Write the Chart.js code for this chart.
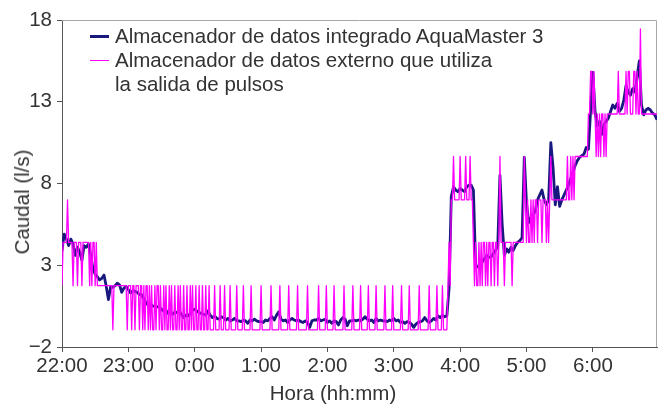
<!DOCTYPE html>
<html>
<head>
<meta charset="utf-8">
<script src="https://cdn.jsdelivr.net/npm/chart.js@4.4.1/dist/chart.umd.min.js"></script>
<style>
  html, body { margin: 0; padding: 0; background: #fff; }
  #wrap { position: relative; width: 660px; height: 409px; font-family: 'Liberation Sans', Arial, sans-serif; color: #333; }
  #flowChart { position: absolute; left: 0; top: 0; }
  .legend { position: absolute; left: 90px; top: 23.5px; font-size: 20.5px; line-height: 24px; }
  .legend .row { position: relative; padding-left: 25px; white-space: nowrap; }
  .legend .swatch { position: absolute; left: 0; width: 19px; }
  .axis-title { position: absolute; font-size: 20.5px; line-height: 24px; white-space: nowrap; }
</style>
</head>
<body>
<div id="wrap">
  <canvas id="flowChart" width="660" height="409"></canvas>
  <div class="legend" id="legend"></div>
  <div class="axis-title" id="xTitle" style="left:333px; top:381px; transform:translateX(-50%);"></div>
  <div class="axis-title" id="yTitle" style="left:22px; top:202px; transform:translate(-50%,-50%) rotate(-90deg);"></div>
</div>
<script>
// textos
const seriesNames = [
  ['Almacenador de datos integrado AquaMaster 3'],
  ['Almacenador de datos externo que utiliza', 'la salida de pulsos']
];
const xTitle = 'Hora (hh:mm)';
const yTitle = 'Caudal (l/s)';

// ejes
const xTickMinutes = [0, 60, 120, 180, 240, 300, 360, 420, 480];
const xTickLabels = ['22:00', '23:00', '0:00', '1:00', '2:00', '3:00', '4:00', '5:00', '6:00'];
const xEndMinute = 538;
const yTickValues = [-2, 3, 8, 13, 18];
const yTickLabels = ['\u22122', '3', '8', '13', '18'];

// registrador integrado: una muestra cada 2 min desde las 22:00 (l/s)
const integratedIntervalMin = 2;
const integratedFlow = [
  3.9, 4.9, 4.6, 4.2, 4.6, 4.3, 3.6, 4.1, 3.8, 3.3,
  4.2, 4.1, 4.3, 3.6, 2.8, 2.45, 2.3, 2.1, 2.2, 2.4,
  1.7, 0.9, 1.7, 1.65, 1.75, 1.9, 1.8, 1.35, 1.6, 1.7,
  1.5, 1.3, 1.45, 1.4, 1.35, 1.2, 1.2, 0.95, 0.7, 0.55,
  0.65, 0.5, 0.5, 0.45, 0.45, 0.3, 0.2, 0.25, 0.05, 0.15,
  0.0, 0.15, 0.1, 0.2, 0.0, -0.2, -0.05, -0.1, 0.05, 0.25,
  0.3, 0.2, 0.1, 0.05, 0.0, -0.05, 0.2, -0.05, -0.2, -0.1,
  -0.25, -0.3, -0.15, -0.2, -0.35, -0.25, -0.4, -0.35, -0.25, -0.4,
  -0.4, -0.45, -0.35, -0.4, -0.55, -0.35, -0.4, -0.3, -0.4, -0.45,
  -0.45, -0.5, -0.35, -0.4, -0.25, -0.15, -0.35, -0.05, 0.15, -0.3,
  -0.4, -0.35, -0.5, -0.35, -0.25, -0.35, -0.4, -0.35, -0.45, -0.5,
  -0.4, -0.5, -0.8, -0.4, -0.35, -0.35, -0.25, -0.4, -0.35, -0.3,
  -0.5, -0.4, -0.55, -0.4, -0.45, -0.65, -0.35, -0.2, -0.3, -0.7,
  -0.4, -0.4, -0.35, -0.4, -0.35, -0.4, -0.3, -0.15, -0.3, -0.4,
  -0.35, -0.5, -0.25, -0.4, -0.35, -0.4, -0.4, -0.45, -0.35, -0.4,
  -0.25, -0.4, -0.35, -0.5, -0.45, -0.55, -0.45, -0.5, -0.6, -0.8,
  -0.6, -0.5, -0.45, -0.4, -0.2, -0.4, -0.5, -0.4, -0.25, -0.35,
  -0.1, -0.2, -0.05, -0.15, -0.1, 1.6, 7.2, 7.8, 7.6, 7.5,
  7.7, 7.6, 7.5, 7.8, 7.9, 7.9, 7.6, 3.0, 2.9, 3.0,
  3.2, 3.4, 3.6, 3.5, 3.5, 3.7, 3.9, 4.2, 8.5, 5.5,
  3.6, 4.0, 3.8, 4.1, 3.9, 4.2, 4.4, 4.5, 4.7, 9.6,
  6.8, 5.6, 5.9, 6.1, 6.3, 7.0, 7.3, 7.6, 7.0, 6.7,
  7.0, 10.5, 9.0, 6.7, 7.8, 6.6, 7.0, 7.3, 7.6, 7.9,
  8.3, 8.7, 9.1, 9.4, 9.6, 9.7, 9.8, 10.2, 10.1, 12.5,
  14.8, 12.4, 11.5, 11.8, 11.0, 11.6, 11.8, 12.0, 12.4, 12.8,
  12.6, 12.9, 12.4, 12.6, 13.1, 14.0, 13.6, 13.4, 13.8, 13.6,
  14.5, 15.5, 12.8, 12.2, 12.5, 12.6, 12.5, 12.3, 12.2, 11.9
];

// registrador externo: pulsos contados por minuto, y caudal de cada nivel (l/s)
const externalIntervalMin = 1;
const pulseLevels = [-0.95, 1.75, 4.4, 7.0, 9.65, 12.25, 14.85, 17.45];
const externalPulses = [
  1,2,2,2,2,3,2,2,2,2, 1,2,2,2,1,2,2,2,1,2, 2,2,2,2,2,1,2,1,2,2, 1,2,1,1,1,1,1,1,1,1,
  1,1,1,1,1,1,0,1,1,1, 1,1,1,1,1,1,1,1,1,0, 1,1,1,0,1,1,0,1,1,1, 0,1,1,0,1,0,1,1,0,1,
  0,1,0,0,1,0,1,1,0,1, 0,0,1,0,1,0,0,1,0,1, 0,0,1,0,0,1,0,1,0,0, 1,0,0,1,0,0,1,0,1,0,
  0,1,0,0,1,0,0,1,0,0, 1,0,0,1,0,0,0,0,1,0, 0,0,0,1,0,0,0,1,0,0, 0,0,1,0,0,0,0,0,1,0,
  0,0,0,0,1,0,0,0,0,0, 0,1,0,0,0,0,0,0,0,0, 1,0,0,0,0,0,0,0,0,1, 0,0,0,0,0,0,0,1,0,0,
  0,0,0,0,0,1,0,0,0,0, 0,0,0,1,0,0,0,0,0,0, 0,0,1,0,0,0,0,0,0,0, 0,0,1,0,0,0,0,0,0,1,
  0,0,0,0,0,0,1,0,0,0, 0,0,0,0,0,1,0,0,0,0, 0,0,0,1,0,0,0,0,0,0, 1,0,0,0,0,0,0,1,0,0,
  0,0,0,0,1,0,0,0,0,0, 0,0,1,0,0,0,0,0,0,1, 0,0,0,0,0,0,0,1,0,0, 0,0,0,0,1,0,0,0,0,0,
  0,0,0,1,0,0,0,0,0,0, 0,0,1,0,0,0,0,0,0,1, 0,0,0,0,1,0,0,0,0,1, 2,1,3,3,4,3,3,3,3,3,
  4,3,3,3,3,4,3,3,3,4, 3,3,2,1,2,1,1,2,1,2, 1,2,2,1,2,1,2,2,1,2, 2,1,2,2,1,2,4,2,2,2,
  1,2,2,2,2,2,2,1,2,2, 2,2,2,2,2,2,2,2,4,3, 2,3,2,2,3,2,3,2,3,3, 2,3,3,3,2,3,3,3,2,3,
  2,3,4,3,3,3,3,3,3,3, 3,3,3,3,3,3,3,4,3,3, 4,3,4,3,4,4,4,4,4,4, 4,4,4,4,4,4,5,5,6,6,
  5,6,5,4,5,4,5,4,5,5, 4,5,4,5,5,5,5,5,5,5, 5,5,5,6,5,5,5,5,5,5, 6,5,6,6,5,5,5,6,6,5,
  6,5,5,7,5,5,5,5,5,5, 5,5,5,5,5,5,5,5,5
];

// leyenda y títulos en HTML
const seriesColors = ['#18187f', '#ff00ff'];
const seriesWidths = [3, 1.4];
const legendEl = document.getElementById('legend');
seriesNames.forEach((lines, i) => {
  const row = document.createElement('div');
  row.className = 'row';
  row.innerHTML = `<span class="swatch" style="top:${13.3 - seriesWidths[i] / 2}px;border-top:${seriesWidths[i]}px solid ${seriesColors[i]}"></span>` +
    lines.map(t => `<div>${t}</div>`).join('');
  legendEl.appendChild(row);
});
document.getElementById('xTitle').textContent = xTitle;
document.getElementById('yTitle').textContent = yTitle;

const integratedPoints = integratedFlow.map((v, i) => ({ x: i * integratedIntervalMin, y: v }));
const externalPoints = externalPulses.map((p, i) => ({ x: i * externalIntervalMin, y: pulseLevels[p] }));

const tickFont = { family: "'Liberation Sans', Arial, sans-serif", size: 20.5 };

// marco superior y derecho en gris claro
const frameTopRight = {
  id: 'frameTopRight',
  beforeDatasetsDraw(chart) {
    const { ctx, chartArea: a } = chart;
    ctx.save();
    ctx.strokeStyle = '#a8a8a8';
    ctx.lineWidth = 1;
    ctx.beginPath();
    ctx.moveTo(a.left, a.top + 0.5);
    ctx.lineTo(a.right - 0.5, a.top + 0.5);
    ctx.lineTo(a.right - 0.5, a.bottom);
    ctx.stroke();
    ctx.restore();
  }
};

const ctx = document.getElementById('flowChart').getContext('2d');
const flowChart = new Chart(ctx, {
  type: 'line',
  data: {
    datasets: [
      {
        label: seriesNames[0].join(' '),
        data: integratedPoints,
        borderColor: seriesColors[0],
        borderWidth: 2.8,
        borderJoinStyle: 'round',
        pointRadius: 0,
        order: 1
      },
      {
        label: seriesNames[1].join(' '),
        data: externalPoints,
        borderColor: seriesColors[1],
        borderWidth: 1.3,
        borderJoinStyle: 'round',
        pointRadius: 0,
        order: 0
      }
    ]
  },
  options: {
    responsive: false,
    animation: false,
    layout: { padding: { top: 20, right: 3, left: 0, bottom: 0 } },
    plugins: { legend: { display: false }, tooltip: { enabled: false } },
    scales: {
      x: {
        type: 'linear',
        min: 0,
        max: xEndMinute,
        afterBuildTicks: axis => { axis.ticks = xTickMinutes.map(v => ({ value: v })); },
        afterFit: axis => { axis.height = 62; },
        ticks: {
          autoSkip: false,
          maxRotation: 0,
          padding: 2,
          color: '#333',
          font: tickFont,
          callback: (value, index) => xTickLabels[index]
        },
        grid: { drawOnChartArea: false, drawTicks: true, tickLength: 5, color: '#555' },
        border: { display: true, color: '#555', width: 1 }
      },
      y: {
        min: yTickValues[0],
        max: yTickValues[yTickValues.length - 1],
        afterBuildTicks: axis => { axis.ticks = yTickValues.map(v => ({ value: v })); },
        afterFit: axis => { axis.width = 62; },
        ticks: {
          padding: 5,
          color: '#333',
          font: tickFont,
          callback: (value, index) => yTickLabels[index]
        },
        grid: { drawOnChartArea: false, drawTicks: true, tickLength: 5, color: '#555' },
        border: { display: true, color: '#555', width: 1 }
      }
    }
  },
  plugins: [frameTopRight]
});
</script>
</body>
</html>
